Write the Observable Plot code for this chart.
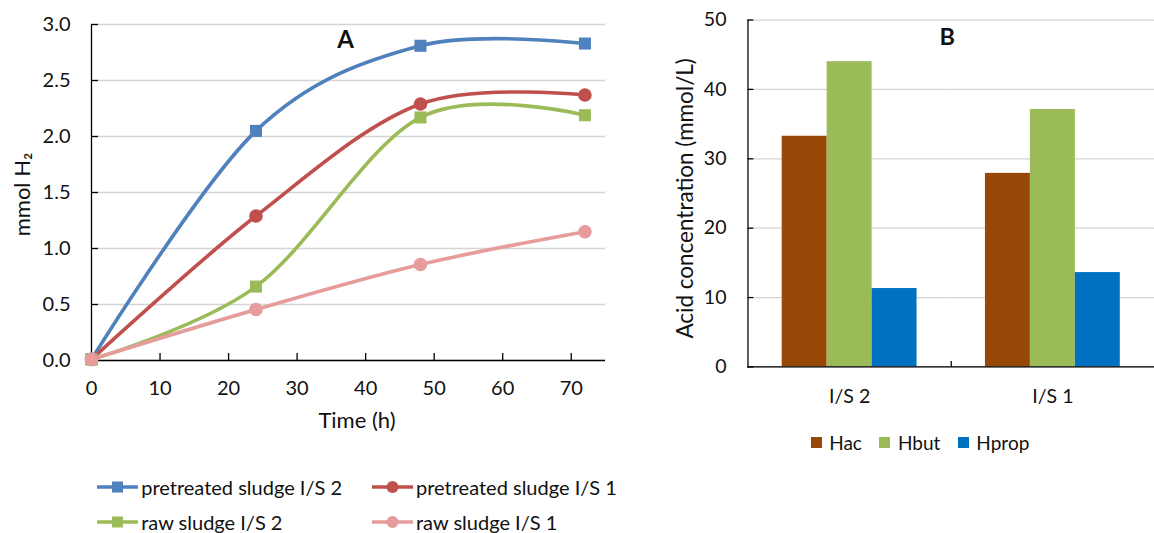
<!DOCTYPE html>
<html><head><meta charset="utf-8">
<script src="https://cdn.jsdelivr.net/npm/d3@7"></script>
<script src="https://cdn.jsdelivr.net/npm/@observablehq/plot@0.6"></script>
<style>
html,body{margin:0;padding:0;background:#fff;overflow:hidden;}
#root{position:relative;width:1154px;height:533px;overflow:hidden;font-family:Lato,sans-serif;color:#111;}
#a{position:absolute;left:0;top:0;}
#b{position:absolute;left:640px;top:0;}
.leg{position:absolute;display:flex;align-items:center;height:24px;font-size:20px;white-space:nowrap;}
.leg svg{margin-right:3.5px;}
#legB{position:absolute;left:810.7px;top:430px;height:24px;display:flex;align-items:center;font-size:19px;}
#legB .it{display:flex;align-items:center;margin-right:17.5px;}
#legB .sw{width:11px;height:11px;margin-right:7.5px;}
</style></head>
<body><div id="root"><div id="a"></div><div id="b"></div><div id="legA"></div><div id="legB"></div></div>
<script>
// ---- Panel A data ----
const times = [0, 24, 48, 72];
const pretreatedIS2 = [0.01, 2.05, 2.81, 2.83];
const pretreatedIS1 = [0.01, 1.29, 2.29, 2.37];
const rawIS2 = [0.01, 0.66, 2.17, 2.19];
const rawIS1 = [0.01, 0.455, 0.857, 1.15];
const seriesNames = ["pretreated sludge I/S 2", "pretreated sludge I/S 1", "raw sludge I/S 2", "raw sludge I/S 1"];
const seriesColors = ["#4F81BD", "#C0504D", "#9BBB59", "#E59C9B"];
const seriesSymbols = ["square", "circle", "square", "circle"];
const xTicksA = [0, 10, 20, 30, 40, 50, 60, 70];
const yTicksA = [0, 0.5, 1, 1.5, 2, 2.5, 3];

// ---- Panel B data ----
const groups = ["I/S 2", "I/S 1"];
const acids = ["Hac", "Hbut", "Hprop"];
const hac = [33.25, 27.9];
const hbut = [44.0, 37.1];
const hprop = [11.3, 13.6];
const acidColors = ["#974706", "#9BBB59", "#0070C0"];
const yTicksB = [0, 10, 20, 30, 40, 50];

const seriesValues = [pretreatedIS2, pretreatedIS1, rawIS2, rawIS1];
const rowsA = seriesNames.flatMap((s, i) => times.map((t, j) => ({series: s, time: t, value: seriesValues[i][j]})));
const acidValues = [hac, hbut, hprop];
const rowsB = groups.flatMap((g, i) => acids.map((a, j) => ({group: g, acid: a, value: acidValues[j][i]})));

const baseStyle = {fontFamily: "Lato, sans-serif", fontSize: "20px", color: "#111", background: "transparent", overflow: "visible"};

const plotA = Plot.plot({
  width: 640, height: 450,
  marginLeft: 91, marginRight: 35, marginTop: 24, marginBottom: 90,
  style: baseStyle,
  x: {domain: [0, 75]},
  y: {domain: [0, 3]},
  color: {domain: seriesNames, range: seriesColors},
  symbol: {domain: seriesNames, range: seriesSymbols},
  marks: [
    Plot.gridY(yTicksA, {stroke: "#d4d4d4", strokeOpacity: 1, strokeWidth: 1.3}),
    Plot.ruleX([0], {stroke: "#000", strokeWidth: 1.3}),
    Plot.ruleY([0], {stroke: "#000", strokeWidth: 1.3}),
    Plot.axisX(xTicksA, {tickSize: -7, tickPadding: 27, label: null, stroke: "#000", strokeWidth: 1.3}),
    Plot.axisY(yTicksA, {tickSize: -7, tickPadding: 28, tickFormat: d3.format(".1f"), label: null, stroke: "#000", strokeWidth: 1.3}),
    Plot.line(rowsA, {x: "time", y: "value", stroke: "series", curve: "cardinal", strokeWidth: 3.6}),
    Plot.dot(rowsA, {x: "time", y: "value", fill: "series", symbol: "series", r: 6.8, stroke: null}),
    Plot.text(["Time (h)"], {text: d => d, frameAnchor: "bottom", dx: 8.5, dy: 67, fontSize: 22}),
    Plot.text(["mmol H₂"], {text: d => d, frameAnchor: "left", textAnchor: "middle", rotate: -90, dx: -69, dy: 2, fontSize: 22}),
    Plot.text(["A"], {text: d => d, frameAnchor: "top", textAnchor: "middle", dx: -3, dy: 6, fontSize: 24, fontWeight: "bold"})
  ]
});
document.getElementById("a").appendChild(plotA);

const tickSymbol = {draw(ctx) { ctx.moveTo(0, 0); ctx.lineTo(0, -6); }};

const plotB = Plot.plot({
  width: 526, height: 460,
  marginLeft: 110, marginRight: 0, marginTop: 20, marginBottom: 85,
  style: baseStyle,
  fx: {domain: groups, padding: 0},
  x: {domain: acids, paddingInner: 0, paddingOuter: 0.737, axis: null},
  y: {domain: [0, 50]},
  color: {domain: acids, range: acidColors},
  marks: [
    Plot.gridY(yTicksB, {stroke: "#d4d4d4", strokeOpacity: 1, strokeWidth: 1.3}),
    Plot.barY(rowsB, {fx: "group", x: "acid", y: "value", fill: "acid"}),
    Plot.ruleY([0], {stroke: "#000", strokeWidth: 1.3}),
    Plot.frame({anchor: "left", stroke: "#000", strokeWidth: 1.3, fx: () => groups[0]}),
    Plot.axisY(yTicksB, {tickSize: -6, tickPadding: 28, label: null, stroke: "#000", strokeWidth: 1.3}),
    Plot.axisFx({anchor: "bottom", tickSize: 0, tickPadding: 23, label: null}),
    Plot.dot(groups.slice(1).map(g => ({group: g})), {fx: "group", frameAnchor: "bottom-left", symbol: tickSymbol, stroke: "#000", strokeWidth: 1.3, fill: "none"}),
    Plot.text([{group: groups[0]}], {fx: "group", frameAnchor: "left", textAnchor: "middle", rotate: -90, dx: -64, dy: 5, text: () => "Acid concentration (mmol/L)", fontSize: 23}),
    Plot.text([{group: groups[1]}], {fx: "group", frameAnchor: "top-left", textAnchor: "middle", dx: -4, dy: 8, text: () => "B", fontSize: 24, fontWeight: "bold"})
  ]
});
document.getElementById("b").appendChild(plotB);

// ---- Legend A ----
const legA = document.getElementById("legA");
const svgNS = "http://www.w3.org/2000/svg";
seriesNames.forEach((s, i) => {
  const col = i % 2, row = Math.floor(i / 2);
  const item = document.createElement("div");
  item.className = "leg";
  item.style.left = (col === 0 ? 96.7 : 371.5) + "px";
  item.style.top = ((row === 0 ? 486.7 : 521.7) - 12) + "px";
  const sw = document.createElementNS(svgNS, "svg");
  sw.setAttribute("width", 41); sw.setAttribute("height", 14);
  const ln = document.createElementNS(svgNS, "line");
  ln.setAttribute("x1", 0); ln.setAttribute("x2", 41); ln.setAttribute("y1", 7); ln.setAttribute("y2", 7);
  ln.setAttribute("stroke", seriesColors[i]); ln.setAttribute("stroke-width", 3.6);
  sw.appendChild(ln);
  let mk;
  if (seriesSymbols[i] === "square") {
    mk = document.createElementNS(svgNS, "rect");
    mk.setAttribute("x", 15); mk.setAttribute("y", 1.5); mk.setAttribute("width", 11); mk.setAttribute("height", 11);
  } else {
    mk = document.createElementNS(svgNS, "circle");
    mk.setAttribute("cx", 20.5); mk.setAttribute("cy", 7); mk.setAttribute("r", 6);
  }
  mk.setAttribute("fill", seriesColors[i]);
  sw.appendChild(mk);
  item.appendChild(sw);
  const tx = document.createElement("span");
  tx.textContent = s;
  item.appendChild(tx);
  legA.appendChild(item);
});

// ---- Legend B ----
const legB = document.getElementById("legB");
acids.forEach((a, i) => {
  const it = document.createElement("div"); it.className = "it";
  const sw = document.createElement("div"); sw.className = "sw"; sw.style.background = acidColors[i];
  const tx = document.createElement("span"); tx.textContent = a;
  it.appendChild(sw); it.appendChild(tx); legB.appendChild(it);
});
</script>
</body></html>
